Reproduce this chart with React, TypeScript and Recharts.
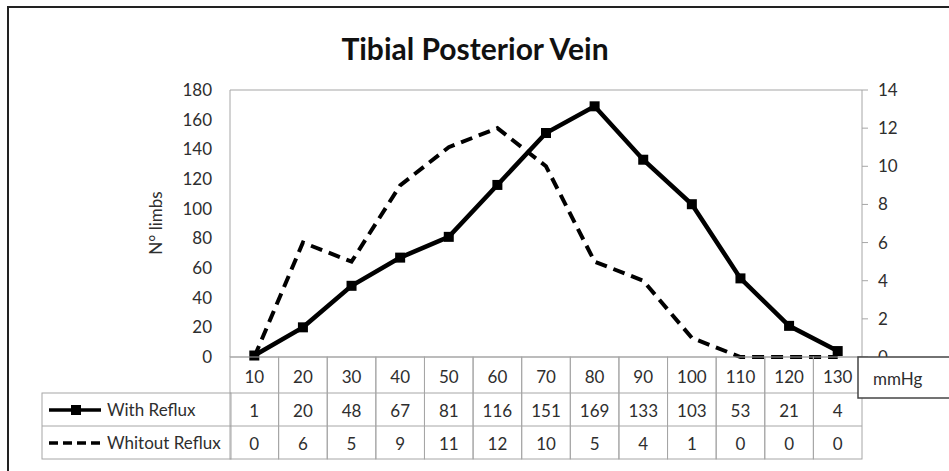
import { LineChart, Line, XAxis, YAxis, CartesianGrid } from 'recharts';

// pressure categories (mmHg)
const categories = ['10', '20', '30', '40', '50', '60', '70', '80', '90', '100', '110', '120', '130'];
const withReflux = [1, 20, 48, 67, 81, 116, 151, 169, 133, 103, 53, 21, 4];
const withoutReflux = [0, 6, 5, 9, 11, 12, 10, 5, 4, 1, 0, 0, 0];
const leftTicks = [0, 20, 40, 60, 80, 100, 120, 140, 160, 180];
const rightTicks = [0, 2, 4, 6, 8, 10, 12, 14];

const data = categories.map((c, i) => ({
  mmHg: c,
  withReflux: withReflux[i],
  withoutReflux: withoutReflux[i],
}));

const FONT = 'Lato, "Open Sans", sans-serif';
const GRID = '#a6a6a6';
const TEXT = '#2e2e2e';
const BAND = 632 / categories.length;

function TableTick(props: any) {
  const { x, y, payload } = props;
  const i = categories.indexOf(String(payload.value));
  const left = x - BAND / 2;
  return (
    <g>
      <rect x={left} y={y} width={BAND} height={102} fill="none" stroke={GRID} />
      <line x1={left} x2={left + BAND} y1={y + 36} y2={y + 36} stroke={GRID} />
      <line x1={left} x2={left + BAND} y1={y + 69} y2={y + 69} stroke={GRID} />
      <g fontFamily={FONT} fontSize={17} fill={TEXT} textAnchor="middle">
        <text x={x} y={y + 19} dominantBaseline="central">{payload.value}</text>
        <text x={x} y={y + 53} dominantBaseline="central">{withReflux[i]}</text>
        <text x={x} y={y + 86} dominantBaseline="central">{withoutReflux[i]}</text>
      </g>
    </g>
  );
}

function SquareDot(props: any) {
  const { cx, cy, index } = props;
  return <rect key={`sq-${index}`} x={cx - 5} y={cy - 5} width={10} height={10} fill="#000" />;
}

export default function App() {
  return (
    <div style={{ position: 'absolute', left: 0, top: 0, width: 949, height: 471, background: '#fff', overflow: 'hidden' }}>
      <LineChart
        width={949}
        height={471}
        data={data}
        margin={{ top: 90, right: 47, left: 170, bottom: 12 }}
      >
        <CartesianGrid vertical={false} stroke={GRID} strokeWidth={1.2} />
        <XAxis
          dataKey="mmHg"
          height={102}
          padding={{ left: BAND / 2, right: BAND / 2 }}
          axisLine={false}
          tickLine={false}
          tickSize={0}
          tickMargin={0}
          interval={0}
          tick={<TableTick />}
        />
        <YAxis
          yAxisId="left"
          width={60}
          domain={[0, 180]}
          ticks={leftTicks}
          interval={0}
          axisLine={{ stroke: GRID }}
          tickLine={false}
          tickSize={0}
          tickMargin={18}
          tick={{ fill: TEXT, fontSize: 17, fontFamily: FONT }}
        />
        <YAxis
          yAxisId="right"
          orientation="right"
          width={40}
          domain={[0, 14]}
          ticks={rightTicks}
          interval={0}
          axisLine={{ stroke: GRID }}
          tickLine={{ stroke: GRID }}
          tickSize={6}
          tickMargin={10}
          tick={{ fill: TEXT, fontSize: 17, fontFamily: FONT, textAnchor: 'start' }}
        />
        <Line
          yAxisId="right"
          dataKey="withoutReflux"
          stroke="#000"
          strokeWidth={4}
          strokeDasharray="12 7"
          dot={false}
          isAnimationActive={false}
        />
        <Line
          yAxisId="left"
          dataKey="withReflux"
          stroke="#000"
          strokeWidth={4.5}
          dot={<SquareDot />}
          isAnimationActive={false}
        />
      </LineChart>

      <svg width={949} height={471} style={{ position: 'absolute', left: 0, top: 0, pointerEvents: 'none' }}>
        {/* outer chart frame */}
        <rect x={8} y={7} width={960} height={480} fill="none" stroke="#222" strokeWidth={2} />
        <text x={475} y={48} textAnchor="middle" dominantBaseline="central" fontFamily={FONT} fontWeight={700} fontSize={30} fill="#111">
          Tibial Posterior Vein
        </text>
        <text
          x={155}
          y={223}
          transform="rotate(-90 155 223)"
          textAnchor="middle"
          dominantBaseline="central"
          fontFamily={FONT}
          fontSize={17}
          fill={TEXT}
        >
          N° limbs
        </text>

        {/* legend column of the data table */}
        <rect x={42} y={393} width={189} height={66} fill="none" stroke={GRID} />
        <line x1={42} x2={231} y1={426} y2={426} stroke={GRID} />
        <line x1={49} x2={101} y1={410} y2={410} stroke="#000" strokeWidth={3.5} />
        <rect x={71} y={405} width={10} height={10} fill="#000" />
        <text x={107} y={409} dominantBaseline="central" fontFamily={FONT} fontSize={17} fill={TEXT}>With Reflux</text>
        <line x1={49} x2={101} y1={443} y2={443} stroke="#000" strokeWidth={3.5} strokeDasharray="9 5" />
        <text x={107} y={442} dominantBaseline="central" fontFamily={FONT} fontSize={17} fill={TEXT}>Whitout Reflux</text>

        {/* axis title box */}
        <rect x={858} y={357} width={110} height={41} fill="#fff" stroke="#444" strokeWidth={1.5} />
        <text x={873} y={378} dominantBaseline="central" fontFamily={FONT} fontSize={17} fill={TEXT}>mmHg</text>
      </svg>
    </div>
  );
}
